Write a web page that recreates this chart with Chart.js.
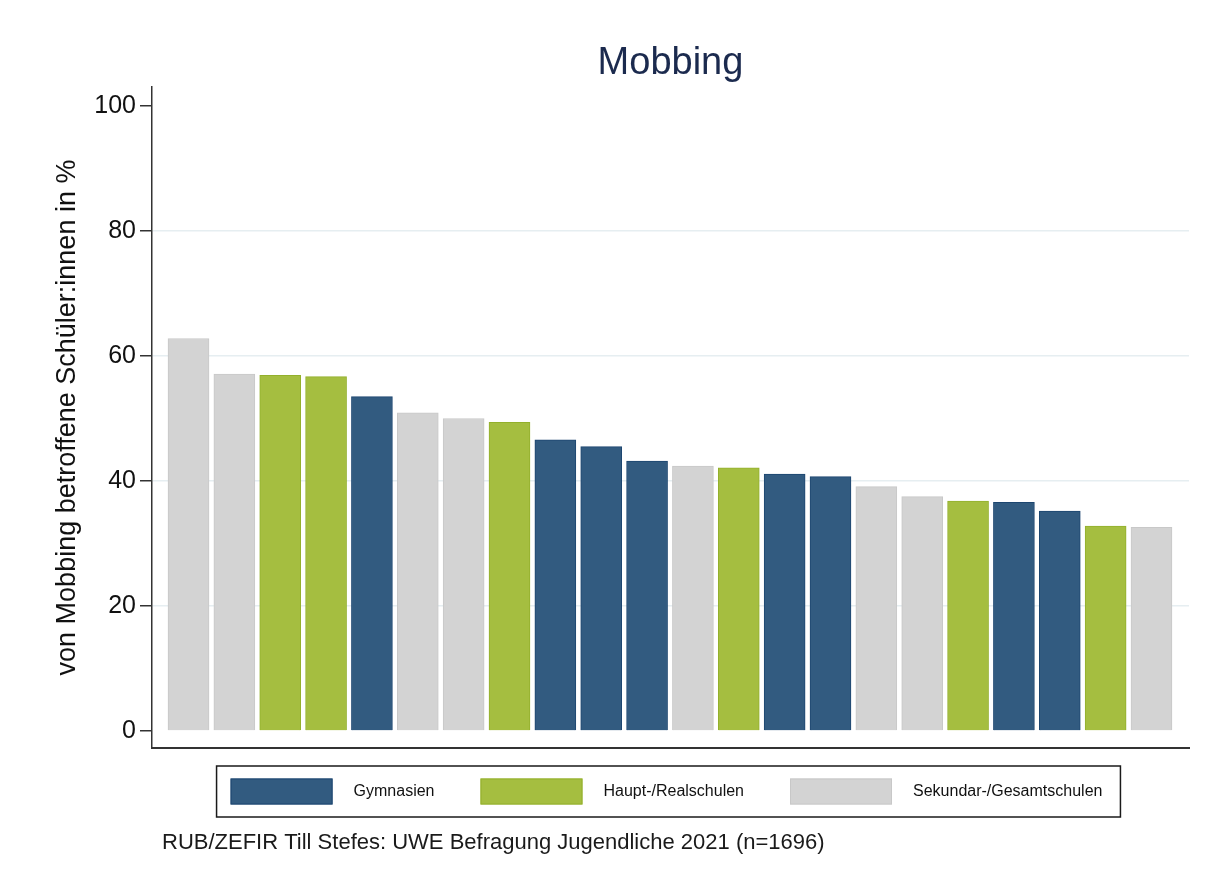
<!DOCTYPE html>
<html lang="de">
<head>
<meta charset="utf-8">
<title>Mobbing</title>
<script src="https://cdn.jsdelivr.net/npm/chart.js@4/dist/chart.umd.min.js"></script>
<style>
    html, body { margin: 0; padding: 0; background: #ffffff; }
    #wrap { width: 1209px; height: 879px; }
</style>
</head>
<body>
<div id="wrap"><canvas id="graficoMobbing" width="1209" height="879"></canvas></div>
<script>
// Schulformen (Legende)
const schulformen = ['Gymnasien', 'Haupt-/Realschulen', 'Sekundar-/Gesamtschulen'];
const farben = ['#325b80', '#a5be40', '#d3d3d3'];
const randFarben = ['#1d4670', '#93b02c', '#c8c8c8'];

// Schulform jeder Schule (Index in schulformen), sortiert wie im Bild
const schulTyp = [2, 2, 1, 1, 0, 2, 2, 1, 0, 0, 0, 2, 1, 0, 0, 2, 2, 1, 0, 0, 1, 2];
// von Mobbing betroffene Schüler:innen in %
const anteilMobbing = [62.8, 57.1, 56.9, 56.7, 53.5, 50.9, 50.0, 49.4, 46.6, 45.5, 43.2,
    42.4, 42.1, 41.1, 40.7, 39.1, 37.5, 36.8, 36.6, 35.2, 32.8, 32.6];

const yTicks = [0, 20, 40, 60, 80, 100];
const quelle = 'RUB/ZEFIR Till Stefes: UWE Befragung Jugendliche 2021 (n=1696)';

const schrift = '"Liberation Sans", Arial, Helvetica, sans-serif';

function datenFuerTyp(t) {
    const punkte = [];
    anteilMobbing.forEach((wert, i) => {
        if (schulTyp[i] === t) punkte.push({ x: i, y: wert });
    });
    return punkte;
}

const datasets = schulformen.map((name, t) => ({
    label: name,
    data: datenFuerTyp(t),
    backgroundColor: farben[t],
    borderColor: randFarben[t],
    borderWidth: 1,
    barThickness: 41,
    grouped: false
}));

// eigene Legende im Kasten + Quellenangabe
const legendeUndQuelle = {
    id: 'legendeUndQuelle',
    afterDraw(chart) {
        const ctx = chart.ctx;
        const area = chart.chartArea;
        const swW = 102, swH = 26, abstandText = 21, abstandItem = 46, innenL = 14, innenR = 18;
        ctx.save();
        ctx.font = '16px ' + schrift;
        const breiten = schulformen.map(n => ctx.measureText(n).width);
        let inhalt = 0;
        breiten.forEach((b, i) => {
            inhalt += swW + abstandText + b + (i < breiten.length - 1 ? abstandItem : 0);
        });
        const boxW = inhalt + innenL + innenR;
        const boxX = (area.left + area.right) / 2 - 2 - boxW / 2;
        const boxY = 766, boxH = 51;

        ctx.strokeStyle = '#1a1a1a';
        ctx.lineWidth = 1.5;
        ctx.strokeRect(boxX, boxY, boxW, boxH);

        let x = boxX + innenL;
        const yMitte = boxY + boxH / 2;
        schulformen.forEach((name, i) => {
            ctx.fillStyle = farben[i];
            ctx.fillRect(x, yMitte - swH / 2, swW, swH);
            ctx.strokeStyle = randFarben[i];
            ctx.lineWidth = 1;
            ctx.strokeRect(x + 0.5, yMitte - swH / 2 + 0.5, swW - 1, swH - 1);
            ctx.fillStyle = '#111111';
            ctx.textAlign = 'left';
            ctx.textBaseline = 'middle';
            ctx.fillText(name, x + swW + abstandText, yMitte);
            x += swW + abstandText + breiten[i] + abstandItem;
        });

        ctx.font = '22px ' + schrift;
        ctx.fillStyle = '#1a1a1a';
        ctx.textAlign = 'left';
        ctx.textBaseline = 'middle';
        ctx.fillText(quelle, 162, 843);
        ctx.restore();
    }
};

const ctx = document.getElementById('graficoMobbing').getContext('2d');

new Chart(ctx, {
    type: 'bar',
    data: { datasets: datasets },
    options: {
        responsive: false,
        animation: false,
        layout: { padding: { left: 0, right: 20, top: 0, bottom: 131 } },
        plugins: {
            legend: { display: false },
            tooltip: { enabled: false },
            title: {
                display: true,
                text: 'Mobbing',
                fullSize: false,
                color: '#1b2a4e',
                font: { family: schrift, size: 38, weight: 'normal', lineHeight: 1.2 },
                padding: { top: 41, bottom: 0.4 }
            }
        },
        scales: {
            x: {
                type: 'linear',
                offset: false,
                min: -0.796,
                max: 21.818,
                ticks: { display: false },
                grid: { display: false, drawTicks: false, offset: false },
                border: { display: true, color: '#333333', width: 2 },
                afterFit(scale) { scale.height = 0; }
            },
            y: {
                min: -2.72,
                max: 103.04,
                afterBuildTicks(scale) {
                    scale.ticks = yTicks.map(v => ({ value: v }));
                },
                afterFit(scale) { scale.width = 152; },
                ticks: {
                    color: '#111111',
                    padding: 4,
                    font: { family: schrift, size: 25 }
                },
                grid: {
                    color: c => (c.tick && c.tick.value > 0 && c.tick.value < 100) ? '#e6eef1' : 'rgba(0,0,0,0)',
                    lineWidth: 1.5,
                    tickColor: '#333333',
                    tickLength: 12,
                    tickWidth: 1.5
                },
                border: { display: true, color: '#333333', width: 1.5 },
                title: {
                    display: true,
                    text: 'von Mobbing betroffene Schüler:innen in %',
                    color: '#111111',
                    font: { family: schrift, size: 27 },
                    padding: { top: 51, bottom: 0 }
                }
            }
        }
    },
    plugins: [legendeUndQuelle]
});
</script>
</body>
</html>
